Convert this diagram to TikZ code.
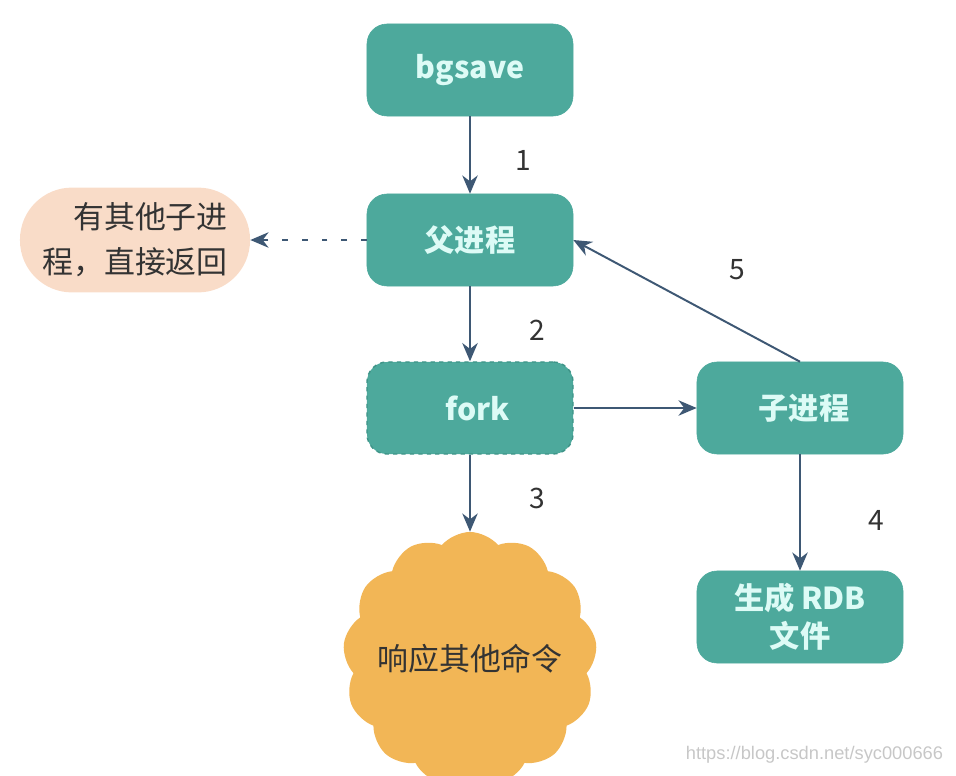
\documentclass[tikz,border=0pt]{standalone}
\usepackage{fontspec}
\setmainfont{Noto Sans CJK SC}
\newfontfamily\markfont{Liberation Sans}
\usetikzlibrary{arrows.meta,shapes.symbols}

\definecolor{boxteal}{HTML}{4DA99C}
\definecolor{boxline}{HTML}{3E9488}
\definecolor{boxtext}{HTML}{DDFBF6}
\definecolor{arrowblue}{HTML}{3E5874}
\definecolor{peach}{HTML}{F9DCC8}
\definecolor{sunny}{HTML}{F2B656}
\definecolor{labelgray}{HTML}{333333}

\tikzset{
  stepbox/.style={draw=boxteal, fill=boxteal, rounded corners=0.5cm,
    minimum width=5.15cm, minimum height=2.3cm, text=boxtext,
    font=\fontsize{21.5}{27}\selectfont\bfseries, align=center},
  flow/.style={draw=arrowblue, line width=1.4pt,
    -{Stealth[length=13pt,width=11pt]}},
  numlabel/.style={text=labelgray, font=\fontsize{20}{24}\selectfont}
}

\begin{document}
\begin{tikzpicture}[x=0.025cm, y=-0.025cm]
  \useasboundingbox (0,0) rectangle (956,776);
  \clip (0,0) rectangle (956,776);

  % boxes
  \node[stepbox] (bgsave) at (470,70) {bgsave};
  \node[stepbox] (parent) at (470,240) {父进程};
  \node[stepbox, draw=boxline, dashed, line width=1pt] (fork) at (470,408) {\hspace*{0.4cm}fork};
  \node[stepbox] (child) at (800,408) {\hspace*{0.2cm}子进程};
  \node[stepbox] (rdb) at (800,617) {生成 RDB\\文件};

  % side notes
  \node[fill=peach, rounded corners=1.3cm, minimum width=5.75cm, minimum height=2.62cm,
    text=labelgray, align=right, inner sep=2pt, font=\fontsize{22}{32}\selectfont] (busy) at (135,240)
    {有其他子进\\程，直接返回};
  \node[cloud, cloud puffs=13, cloud puff arc=100, aspect=1, fill=sunny,
    minimum width=6.35cm, minimum height=6.35cm, inner sep=0pt,
    text=labelgray, font=\fontsize{22}{26}\selectfont] (resp) at (470,659)
    {\makebox[0pt]{响应其他命令}};

  % connectors
  \draw[flow] (bgsave) -- (parent);
  \draw[flow, dash pattern=on 4pt off 10pt] (parent) -- (busy);
  \draw[flow] (parent) -- (fork);
  \draw[flow] (fork) -- (resp.north);
  \draw[flow] (fork) -- (child);
  \draw[flow] (child) -- (rdb);
  \draw[flow] (child.north) -- (parent.east);

  % step numbers
  \node[numlabel] at (523,160) {1};
  \node[numlabel] at (537,330) {2};
  \node[numlabel] at (537,498) {3};
  \node[numlabel] at (876,520) {4};
  \node[numlabel] at (737,270) {5};

  \node[text=black!22, anchor=east, font=\markfont\fontsize{13}{15}\selectfont] (mark) at (948,755)
    {https://blog.csdn.net/syc000666};
\end{tikzpicture}
\end{document}
